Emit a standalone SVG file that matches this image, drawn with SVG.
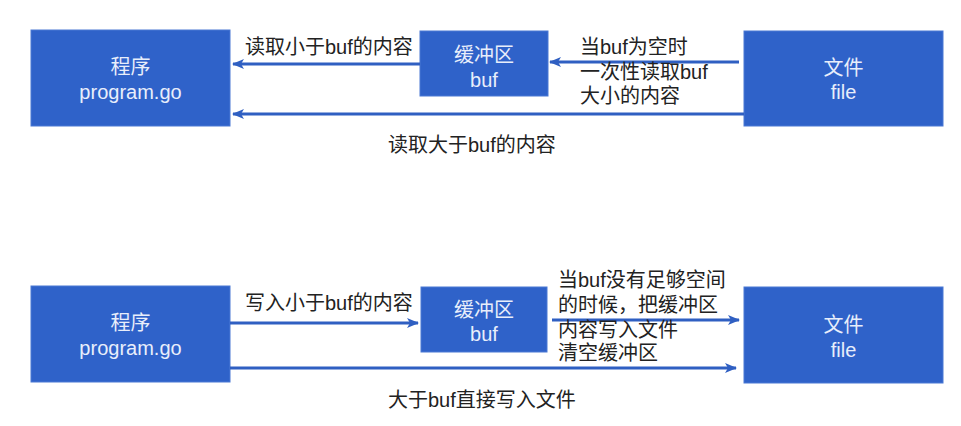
<svg xmlns="http://www.w3.org/2000/svg" width="961" height="426" viewBox="0 0 961 426">
<defs>
<marker id="ah" markerWidth="12" markerHeight="10" refX="11" refY="5" orient="auto" markerUnits="userSpaceOnUse">
<path d="M0,0 L12,5 L0,10 L3,5 Z" fill="#2f5fc2"/>
</marker>
<style>
.box{fill:#2f62c9;stroke:#4a78d4;stroke-width:1}
.bt{font-family:"Liberation Sans","Noto Sans CJK SC",sans-serif;font-size:20px;fill:#e8eefb;text-anchor:middle}
.lb{font-family:"Liberation Sans","Noto Sans CJK SC",sans-serif;font-size:20px;fill:#222}
.ln{stroke:#2f5fc2;stroke-width:3;fill:none;marker-end:url(#ah)}
</style>
</defs>
<rect width="961" height="426" fill="#ffffff"/>

<g id="prog1"><rect class="box" x="31" y="30" width="199" height="96"/><text class="bt" x="130.5" y="74">程序</text><text class="bt" x="130.5" y="99">program.go</text></g>
<g id="buf1"><rect class="box" x="420" y="31" width="128" height="65"/><text class="bt" x="484" y="62">缓冲区</text><text class="bt" x="484" y="87">buf</text></g>
<g id="file1"><rect class="box" x="744" y="31" width="199" height="95"/><text class="bt" x="843.5" y="75">文件</text><text class="bt" x="843.5" y="99">file</text></g>

<g id="prog2"><rect class="box" x="31" y="286" width="199" height="96"/><text class="bt" x="130.5" y="330">程序</text><text class="bt" x="130.5" y="355">program.go</text></g>
<g id="buf2"><rect class="box" x="421" y="287" width="126" height="65"/><text class="bt" x="484" y="317">缓冲区</text><text class="bt" x="484" y="341">buf</text></g>
<g id="file2"><rect class="box" x="744" y="287" width="199" height="96"/><text class="bt" x="843.5" y="332">文件</text><text class="bt" x="843.5" y="357">file</text></g>

<g id="connectors">
<line class="ln" x1="420" y1="64" x2="233" y2="64"/>
<line class="ln" x1="739" y1="62" x2="550" y2="62"/>
<line class="ln" x1="744" y1="114" x2="233" y2="114"/>
<line class="ln" x1="230" y1="323" x2="418" y2="323"/>
<line class="ln" x1="552" y1="320" x2="739" y2="320"/>
<line class="ln" x1="230" y1="368" x2="736" y2="368"/>
</g>

<g id="labels">
<text class="lb" x="245" y="54">读取小于buf的内容</text>
<text class="lb" x="580" y="54">当buf为空时</text>
<text class="lb" x="580" y="79">一次性读取buf</text>
<text class="lb" x="580" y="103">大小的内容</text>
<text class="lb" x="388" y="152">读取大于buf的内容</text>
<text class="lb" x="245" y="310">写入小于buf的内容</text>
<text class="lb" x="558" y="287">当buf没有足够空间</text>
<text class="lb" x="558" y="312">的时候，把缓冲区</text>
<text class="lb" x="558" y="337">内容写入文件</text>
<text class="lb" x="558" y="360">清空缓冲区</text>
<text class="lb" x="388" y="407">大于buf直接写入文件</text>
</g>
</svg>
